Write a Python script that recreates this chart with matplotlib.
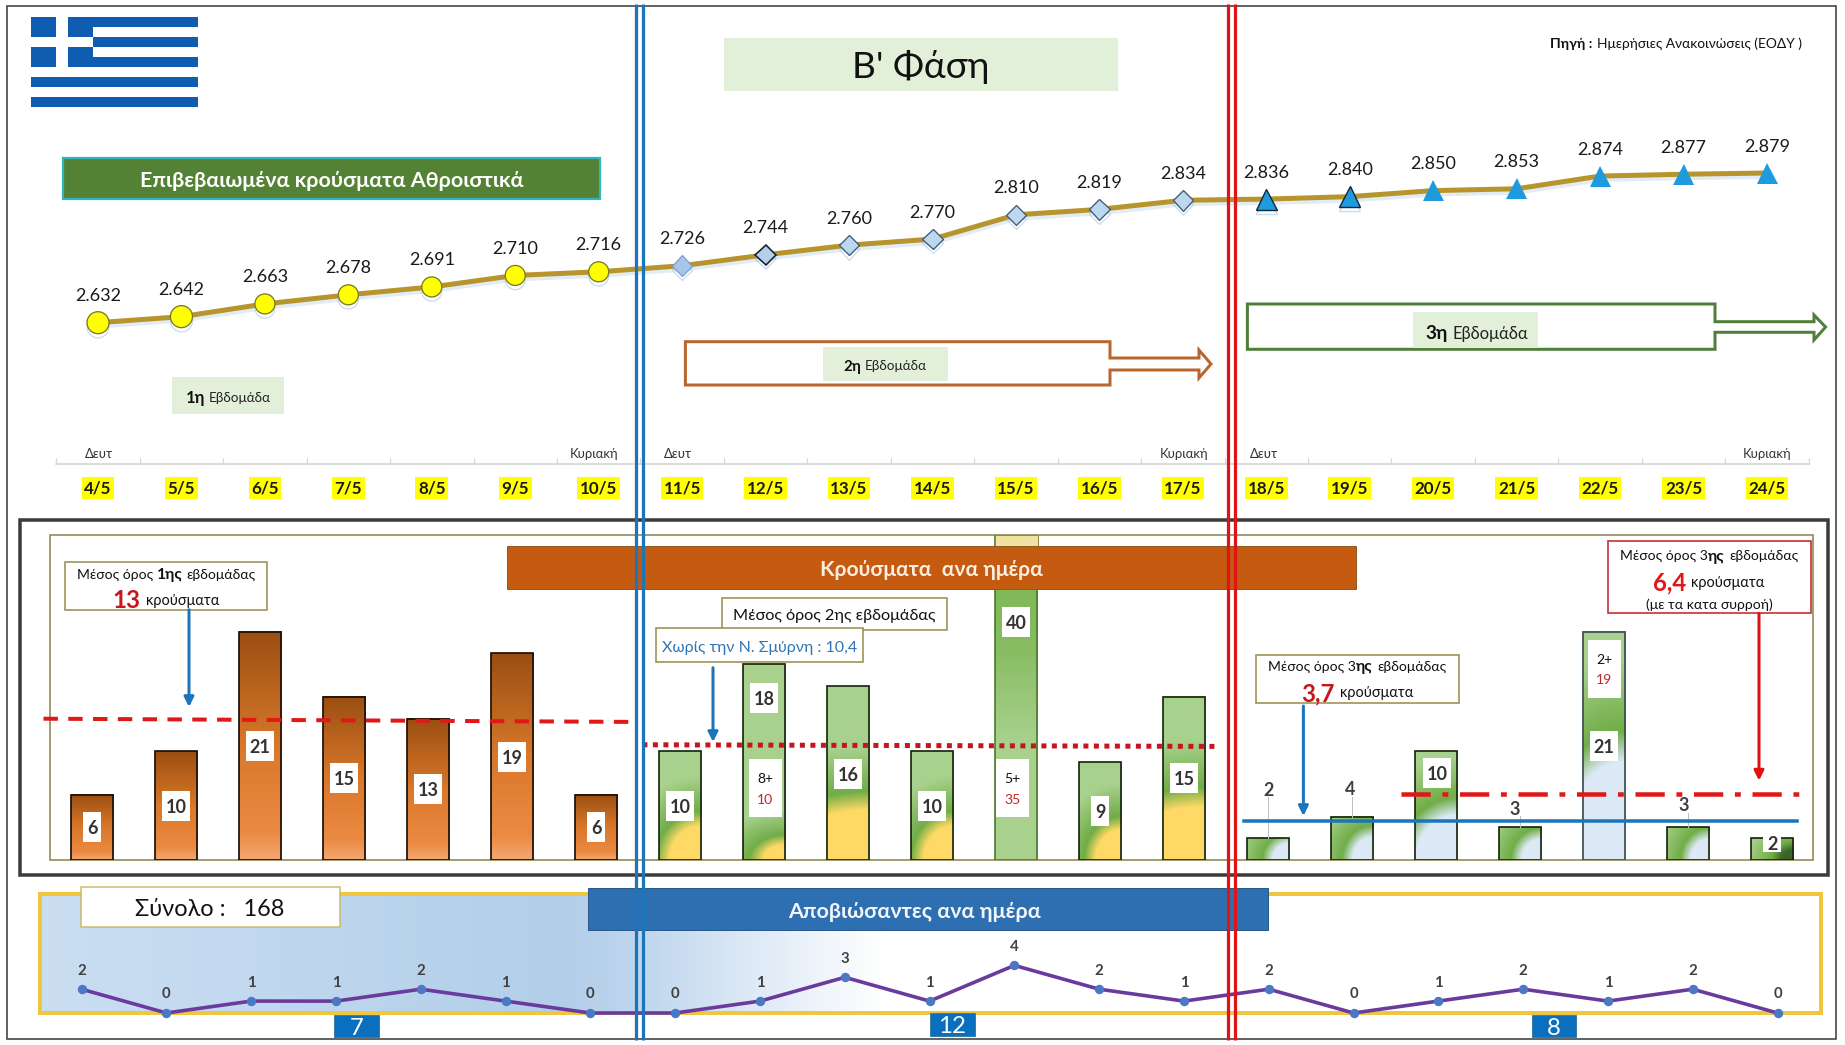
import numpy as np
import matplotlib
matplotlib.use("Agg")
import matplotlib.pyplot as plt
from matplotlib.patches import Rectangle, Polygon, FancyArrowPatch
from matplotlib.colors import to_rgb
import matplotlib.patheffects as pe

W, H = 1845, 1045
FONT = ["Lato", "Roboto", "DejaVu Sans"]
plt.rcParams["font.family"] = FONT

# ---------- data ----------
dates = ["4/5","5/5","6/5","7/5","8/5","9/5","10/5","11/5","12/5","13/5","14/5","15/5","16/5","17/5",
         "18/5","19/5","20/5","21/5","22/5","23/5","24/5"]
cumulative = [2632,2642,2663,2678,2691,2710,2716,2726,2744,2760,2770,2810,2819,2834,2836,2840,2850,2853,2874,2877,2879]
daily = [6,10,21,15,13,19,6,10,18,16,10,40,9,15,2,4,10,3,21,3,2]
deaths = [2,0,1,1,2,1,0,0,1,3,1,4,2,1,2,0,1,2,1,2,0]
week1_mean = [13.0, 12.7]
week2_mean = [10.6, 10.45]
week3_mean_all = [6.1, 6.1]
week3_mean = [3.55, 3.55]
week_death_totals = ["7", "12", "8"]

def pt(px):
    return px * 0.72

fig = plt.figure(figsize=(W/100, H/100), dpi=100, facecolor="white")

def px_axes(x0_px, dx_px, top_px, bottom_px, y_at_bottom, px_per_unit, z):
    """Full-width axes whose x unit is a day and whose y is in data units."""
    ax = fig.add_axes([0, 1-bottom_px/H, 1, (bottom_px-top_px)/H], zorder=z)
    ax.set_xlim(-x0_px/dx_px, (W-x0_px)/dx_px)
    ax.set_ylim(y_at_bottom, y_at_bottom + (bottom_px-top_px)/px_per_unit)
    ax.patch.set_alpha(0)
    ax.set_autoscale_on(False)
    for s in ax.spines.values():
        s.set_visible(False)
    ax.set_xticks([]); ax.set_yticks([])
    return ax

bg = fig.add_axes([0,0,1,1], zorder=0); bg.set_xlim(0,W); bg.set_ylim(H,0); bg.axis("off"); bg.set_autoscale_on(False)
fg = fig.add_axes([0,0,1,1], zorder=5); fg.set_xlim(0,W); fg.set_ylim(H,0); fg.axis("off"); fg.set_autoscale_on(False); fg.patch.set_alpha(0)

def rect(ax, x0, y0, x1, y1, fc="none", ec="none", lw=0, z=2):
    ax.add_patch(Rectangle((x0,y0), x1-x0, y1-y0, facecolor=fc, edgecolor=ec, linewidth=pt(lw), zorder=z))

renderer = fig.canvas.get_renderer()

def rich(ax, cx, cy, parts, gap=5, z=6):
    """Centered line of pieces: (string, px size, bold, colour[, gap after])."""
    items = []
    total = 0
    for p in parts:
        s, size, bold, col = p[:4]
        g = p[4] if len(p) > 4 else gap
        t = ax.text(0, cy, s, fontsize=pt(size), fontweight="bold" if bold else "normal",
                    color=col, ha="left", va="center_baseline", zorder=z)
        w = t.get_window_extent(renderer).width
        items.append((t, w, g))
        total += w + g
    total -= items[-1][2]
    x = cx - total/2
    for t, w, g in items:
        t.set_x(x)
        x += w + g

# ---------- background layer ----------
rect(bg, 6.5, 6, 1836, 1039, ec="#404040", lw=1.6, z=1)
# flag
BLUE = "#0F5DB0"
for k in range(0, 9, 2):
    rect(bg, 31, 17+k*9.97, 198, 17+(k+1)*9.97, fc=BLUE)
rect(bg, 31, 17, 93, 66.8, fc=BLUE, z=3)
rect(bg, 56, 17, 68, 66.8, fc="white", z=4)
rect(bg, 31, 36.9, 93, 46.9, fc="white", z=4)
# title etc.
rect(bg, 723.6, 38, 1118, 90.7, fc="#E2F0D9")
rect(bg, 172, 377, 283.5, 413.7, fc="#E2F0D9")

# deaths panel fill
stops_x = np.array([40, 300, 560, 640, 750, 885])
stops_c = np.array([to_rgb(c) for c in ["#CBDEF2","#BFD7EE","#B2CEE9","#BFD6EE","#DDE9F6","#FFFFFF"]])
xs = np.linspace(40, 885, 300)
grad = np.stack([np.interp(xs, stops_x, stops_c[:,i]) for i in range(3)], axis=-1)[None,:,:]
bg.imshow(grad, extent=(40,885,1013,894), aspect="auto", zorder=2, interpolation="bilinear")
bg.set_xlim(0,W); bg.set_ylim(H,0)
rect(bg, 39.6, 894, 1820.5, 1012.7, ec="#F0C53F", lw=4, z=3)

# bar panel frames
rect(bg, 19.6, 520, 1827.5, 874.5, ec="#3B3B3B", lw=3.5, z=2)
rect(bg, 50, 534.6, 1813, 860, ec="#8F8750", lw=1.6, z=2)

# ---------- cumulative line ----------
X0, DX = 98.0, 83.45
ax1 = px_axes(X0, DX, 100, 464, 2632-(464-322.7)/0.606, 0.606, 2)
days = np.arange(len(dates))
ax1.plot(days, cumulative, color="#B8942C", lw=pt(5), solid_capstyle="round", zorder=2,
         path_effects=[pe.SimpleLineShadow(offset=(0,-2.5), shadow_color="#9DC3E6", alpha=0.3), pe.Normal()])
for i in days:
    if i < 7:
        ms = 22 if i < 2 else 20
        st = dict(marker="o", ms=pt(ms), mfc="#FFFF00", mec="#7A7A1E", mew=pt(1.3))
    elif i == 7:
        st = dict(marker="D", ms=pt(14.5), mfc="#A9C4EB", mec="#7C9FD6", mew=pt(1.3))
    elif i == 8:
        st = dict(marker="D", ms=pt(14.5), mfc="#B4CFEA", mec="#14202E", mew=pt(1.6))
    elif i < 14:
        st = dict(marker="D", ms=pt(14.5), mfc="#BDD7EE", mec="#3A5A78", mew=pt(1.3))
    elif i < 16:
        st = dict(marker="^", ms=pt(21), mfc="#1E9BDC", mec="#10283C", mew=pt(1.4))
    else:
        st = dict(marker="^", ms=pt(21), mfc="#1E9BDC", mec="#1E9BDC", mew=0)
    ax1.plot([i],[cumulative[i]], ls="none", zorder=3,
             path_effects=[pe.SimpleLineShadow(offset=(0,-3), shadow_color="#9DC3E6", alpha=0.55), pe.Normal()], **st)
    txt = f"{cumulative[i]:,}".replace(",", ".")
    ax1.annotate(txt, (i, cumulative[i]), xytext=(0, pt(28)), textcoords="offset points",
                 ha="center", va="center_baseline", fontsize=pt(18), color="#1A1A1A", zorder=4)
# axis with dates
ax1.spines["bottom"].set_visible(True)
ax1.spines["bottom"].set_color("#D4D4D4")
ax1.spines["bottom"].set_linewidth(pt(1.6))
ax1.spines["bottom"].set_bounds(-0.5, 20.5)
ax1.set_xticks(days)
ax1.set_xticklabels(dates, fontsize=pt(17), fontweight="bold", color="#1A1A1A")
ax1.set_xticks(np.arange(-0.5, 21), minor=True)
ax1.tick_params(axis="x", which="major", length=0, pad=pt(16))
ax1.tick_params(axis="x", which="minor", length=pt(6), direction="in", color="#D4D4D4", width=pt(1.2))
for lab in ax1.get_xticklabels():
    lab.set_bbox(dict(facecolor="#FFFF00", edgecolor="none", pad=pt(2.5)))

# ---------- daily bars ----------
BX0, BDX, PPU = 92.2, 84.0, 10.87
ax2 = px_axes(BX0, BDX, 534.6, 860, 0, PPU, 2)
BW = 42.4/BDX

def mix(a, b, t):
    t = np.clip(t, 0, 1)[..., None]
    return np.array(to_rgb(a))*(1-t) + np.array(to_rgb(b))*t

def vertical(h, stops, colors):
    us = np.linspace(0, 1, 256)[::-1]
    arr = np.array([to_rgb(c) for c in colors])
    img = np.stack([np.interp(us, stops, arr[:,k]) for k in range(3)], axis=-1)[:,None,:]
    return np.repeat(img, 2, axis=1)

def corner(hpx, rx, ry, inner, mid="#70AD47", outer="#A9D18E"):
    ny = max(int(hpx), 8); nx = 42
    yy = np.linspace(hpx, 0, ny)[:,None]
    xx = np.linspace(42.4, 0, nx)[None,:]
    d = np.sqrt((xx/rx)**2 + (yy/ry)**2)
    t = (d-1)*ry
    band = 0.25*ry + 6
    fade = 0.6*ry + 15
    c = mix(inner, mid, t/band)
    o = mix(mid, outer, (t-band)/fade)
    return np.where((t > band)[...,None], o, c)

week2_glow = {7:(32,34), 8:(22,15), 9:(90,50), 10:(30,34), 12:(26,30), 13:(90,53)}
week3_glow = {14:(17,17), 15:(21,23), 16:(42,45), 17:(20,21), 18:(66,98), 19:(19,21)}
for i, v in enumerate(daily):
    hpx = v*PPU
    if i < 7:
        img = vertical(v, [0, .12, .5, 1], ["#F3A872", "#EB8A42", "#D9782A", "#9A4E12"])
    elif i == 11:
        img = vertical(v, [0, .27, .48, .75, 1], ["#A9D18E", "#A9D18E", "#88BD63", "#79B34C", "#79B34C"])
    elif i in week2_glow:
        rx, ry = week2_glow[i]
        img = corner(hpx, rx, ry, "#FFD966")
    elif i in week3_glow:
        rx, ry = week3_glow[i]
        img = corner(hpx, rx, ry, "#DCE9F6")
    else:
        img = corner(hpx, 12, 10, "#3A6428", mid="#70AD47")
    ax2.imshow(img, extent=(i-BW/2, i+BW/2, 0, v), aspect="auto", zorder=1, interpolation="bilinear")
ax2.set_xlim(-BX0/BDX, (W-BX0)/BDX); ax2.set_ylim(0, (860-534.6)/PPU)
ec = ["#1A0E05"]*7 + ["#16260C"]*4 + ["#4E7A2F"] + ["#16260C"]*2 + ["#16260C"]*4 + ["#3A4A50"] + ["#16260C"]*2
ax2.bar(days, daily, width=BW, facecolor="none", edgecolor=ec, linewidth=pt(1.7), zorder=2)

def lab_box(i, y_val, wpx, hpx, dx_px=0, z=5):
    ax2.add_patch(Rectangle((i+(dx_px-wpx/2)/BDX, y_val-hpx/2/PPU), wpx/BDX, hpx/PPU, fc="white", ec="none", zorder=z))

label_y = {8:14.93, 9:7.9, 11:21.85, 16:7.96, 20:1.56}
for i, v in enumerate(daily):
    if i in (14, 15, 17, 19):
        continue
    y = label_y.get(i, v/2)
    wbox = 18 if v < 10 else 28
    hbox = 17 if i == 20 else 30
    ddx = 1 if i == 16 else 0
    lab_box(i, y, wbox, hbox, ddx)
    ax2.text(i+ddx/BDX, y, str(v), ha="center", va="center_baseline", fontsize=pt(18), fontweight="bold", color="#333333", zorder=6)

above = {14:(6.55,0), 15:(6.6,-2), 17:(4.82,-5), 19:(5.15,-4)}
for i,(y,off) in above.items():
    ax2.plot([i, i], [daily[i], y-0.8], color="#BFBFBF", lw=pt(1), zorder=2)
    ax2.text(i+off/BDX, y, str(daily[i]), ha="center", va="center_baseline", fontsize=pt(18), fontweight="bold", color="#404040", zorder=6)

split_labels = [(8, 6.6, "8+", "10", 1), (11, 6.58, "5+", "35", -4), (18, 17.57, "2+", "19", 0)]
for i, y, a, b, off in split_labels:
    lab_box(i, y, 33, 58, off)
    ax2.text(i+off/BDX, y+0.95, a, ha="center", va="center_baseline", fontsize=pt(14), color="#111111", zorder=6)
    ax2.text(i+off/BDX, y-0.95, b, ha="center", va="center_baseline", fontsize=pt(14), color="#C0272D", zorder=6)

ax2.plot([-0.58, 6.5], week1_mean, color="#E01818", lw=pt(4), ls=(0,(3.6,2.6)), zorder=4, clip_on=False)
ax2.plot([6.55, 13.38], week2_mean, color="#C4161C", lw=pt(5), ls=(0,(1,1.1)), zorder=4)
ax2.plot([13.71, 20.3], week3_mean, color="#1B75BB", lw=pt(3.5), zorder=3.5)
ax2.plot([15.58, 20.38], week3_mean_all, color="#E01818", lw=pt(4.5), ls=(0,(6.5,2.6,1.3,2.6)), zorder=4)

# ---------- deaths ----------
DX0, DDX = 81.6, 84.8
ax3 = px_axes(DX0, DDX, 940, 1020, -(1020-1013)/11.9, 11.9, 3)
ax3.plot(days, deaths, color="#6A3A9C", lw=pt(3.6), zorder=2, clip_on=False)
ax3.plot(days, deaths, ls="none", marker="o", ms=pt(8), mfc="#4A78C4", mec="#4A78C4", zorder=3, clip_on=False)
for i, v in enumerate(deaths):
    ax3.annotate(str(v), (i, v), xytext=(0, pt(20)), textcoords="offset points", ha="center", va="center_baseline",
                 fontsize=pt(15), fontweight="bold", color="#404040", annotation_clip=False)

# ---------- foreground layer ----------
rect(fg, 63.4, 157.7, 600, 199.3, fc="#548235", ec="#2FB4C2", lw=2.2)
fg.text(332, 179, "Επιβεβαιωμένα κρούσματα Αθροιστικά", color="white", fontweight="bold", fontsize=pt(21.5), ha="center", va="center_baseline")
fg.text(921, 64, "Β' Φάση", color="#111111", fontsize=pt(37), ha="center", va="center_baseline")
rich(fg, 1676, 43, [("Πηγή :", 14, True, "#111111"), ("Ημερήσιες Ανακοινώσεις (ΕΟΔΥ )", 13.8, False, "#111111")])
rich(fg, 228.5, 397, [("1η", 16.5, True, "#111111"), ("Εβδομάδα", 13.5, False, "#222222")], gap=4)

ORANGE = "#B8662E"; GREEN = "#4F7F3A"
def outlined_arrow(x0, y0, y1, sx, hx, tip, s0, s1, h0, h1, col, lw):
    ym = (s0+s1)/2
    pts = [(x0,y0),(sx,y0),(sx,s0),(hx,s0),(hx,h0),(tip,ym),(hx,h1),(hx,s1),(sx,s1),(sx,y1),(x0,y1)]
    fg.add_patch(Polygon(pts, closed=True, facecolor="white", edgecolor=col, linewidth=pt(lw), joinstyle="miter", zorder=2))
outlined_arrow(685.4, 341.7, 385, 1110, 1199, 1211, 358, 370, 350, 378, ORANGE, 3)
outlined_arrow(1247.4, 304, 349.3, 1715, 1814, 1825.6, 321.7, 332.3, 315, 340, GREEN, 3)
rect(fg, 823, 346.7, 948, 381, fc="#E2F0D9", z=3)
rich(fg, 885, 365, [("2η", 15, True, "#111111"), ("Εβδομάδα", 13.5, False, "#222222")], gap=4)
rect(fg, 1412.6, 312, 1538, 348.3, fc="#E2F0D9", z=3)
rich(fg, 1477, 332, [("3η", 19, True, "#111111"), ("Εβδομάδα", 16.5, False, "#222222")], gap=5)

weekday_marks = [(98.6,"Δευτ"),(594,"Κυριακή"),(678,"Δευτ"),(1183.7,"Κυριακή"),(1264,"Δευτ"),(1767,"Κυριακή")]
for x, s in weekday_marks:
    fg.text(x, 453, s, fontsize=pt(13), color="#333333", ha="center", va="center_baseline")

# headers
rect(fg, 507, 545.5, 1356.4, 589, fc="#C55A11", ec="#8F5A20", lw=1, z=3)
fg.text(931.4, 568, "Κρούσματα  ανα ημέρα", color="#FDEFE0", fontweight="bold", fontsize=pt(21), ha="center", va="center_baseline", zorder=4)
rect(fg, 588, 888, 1267.5, 930, fc="#2E6FB2", ec="#27598C", lw=1, z=3)
fg.text(914, 910, "Αποβιώσαντες ανα ημέρα", color="#F2F6FB", fontweight="bold", fontsize=pt(21.5), ha="center", va="center_baseline", zorder=4)
rect(fg, 81, 887, 340, 927, fc="white", ec="#C9B96A", lw=1.5, z=3)
fg.text(210, 908, "Σύνολο :   168", color="#111111", fontsize=pt(23.5), ha="center", va="center_baseline", zorder=4)
# clipped top of the tall bar above the header
rect(fg, 995, 534.6, 1037.6, 545.5, fc="#F0E2A0", ec="#8F8750", lw=1, z=2.5)

# callouts
TAN = "#9A8F52"; RED = "#D4141A"
BK = "#111111"
rect(fg, 64.5, 562, 267, 609.7, fc="white", ec=TAN, lw=1.6, z=3)
rich(fg, 166, 574, [("Μέσος όρος", 14, False, BK), ("1ης", 15.5, True, BK), ("εβδομάδας", 14, False, BK)], gap=4)
rich(fg, 166, 599, [("13", 24, True, "#C8161D"), ("κρούσματα", 14.5, False, BK)])

rect(fg, 722.4, 597.7, 946.5, 629.5, fc="white", ec=TAN, lw=1.6, z=3)
fg.text(834, 614.4, "Μέσος όρος 2ης εβδομάδας", fontsize=pt(16.2), color=BK, ha="center", va="center_baseline", zorder=4)
rect(fg, 656, 628.4, 863, 662, fc="white", ec=TAN, lw=1.6, z=3.2)
fg.text(760, 646.5, "Χωρίς την Ν. Σμύρνη : 10,4", fontsize=pt(16), color="#2F75B5", ha="center", va="center_baseline", zorder=4)

rect(fg, 1256, 655, 1458.5, 702.5, fc="white", ec=TAN, lw=1.6, z=3)
rich(fg, 1357, 666, [("Μέσος όρος 3", 14, False, BK, 0.5), ("ης", 15.5, True, BK, 4), ("εβδομάδας", 14, False, BK)])
rich(fg, 1357, 692, [("3,7", 24, True, "#C8161D"), ("κρούσματα", 14.5, False, BK)])

rect(fg, 1608, 541.4, 1811, 613.4, fc="white", ec="#C8262E", lw=1.6, z=3)
rich(fg, 1709, 555, [("Μέσος όρος 3", 14, False, BK, 0.5), ("ης", 15.5, True, BK, 4), ("εβδομάδας", 14, False, BK)])
rich(fg, 1709, 581, [("6,4", 24, True, "#E01818"), ("κρούσματα", 14.5, False, BK)])
fg.text(1709, 604, "(με τα κατα συρροή)", fontsize=pt(14), color=BK, ha="center", va="center_baseline", zorder=6)

def arrow(x, y0, y1, col):
    fg.add_patch(FancyArrowPatch((x,y0), (x,y1), arrowstyle="-|>", mutation_scale=pt(20), color=col,
                                 lw=pt(3), shrinkA=0, shrinkB=0, zorder=3.5))
arrow(189, 609.7, 707, "#1B75BB")
arrow(713, 667.7, 742, "#1B75BB")
arrow(1303.4, 706, 816, "#1B75BB")
arrow(1759, 613.4, 780.6, "#E01010")

# weekly death totals
for (x0, x1, y0, y1), s in zip([(334,379,1015,1036.6),(930,975,1012.7,1035.6),(1531.5,1576.4,1015,1036.6)], week_death_totals):
    rect(fg, x0, y0, x1, y1, fc="#0A6FBE", ec="#3A7FA8", lw=1, z=3)
    fg.text((x0+x1)/2, (y0+y1)/2+0.5, s, fontsize=pt(24), color="white", ha="center", va="center_baseline", zorder=4)

# phase separators
for x in (636, 642.5):
    fg.plot([x,x],[4,1040], color="#1B75BB", lw=pt(3.2), zorder=8, solid_capstyle="butt")
for x in (1228, 1235):
    fg.plot([x,x],[4,1040], color="#E01414", lw=pt(3.2), zorder=8, solid_capstyle="butt")

fig.savefig("out.png", dpi=100, facecolor="white")
